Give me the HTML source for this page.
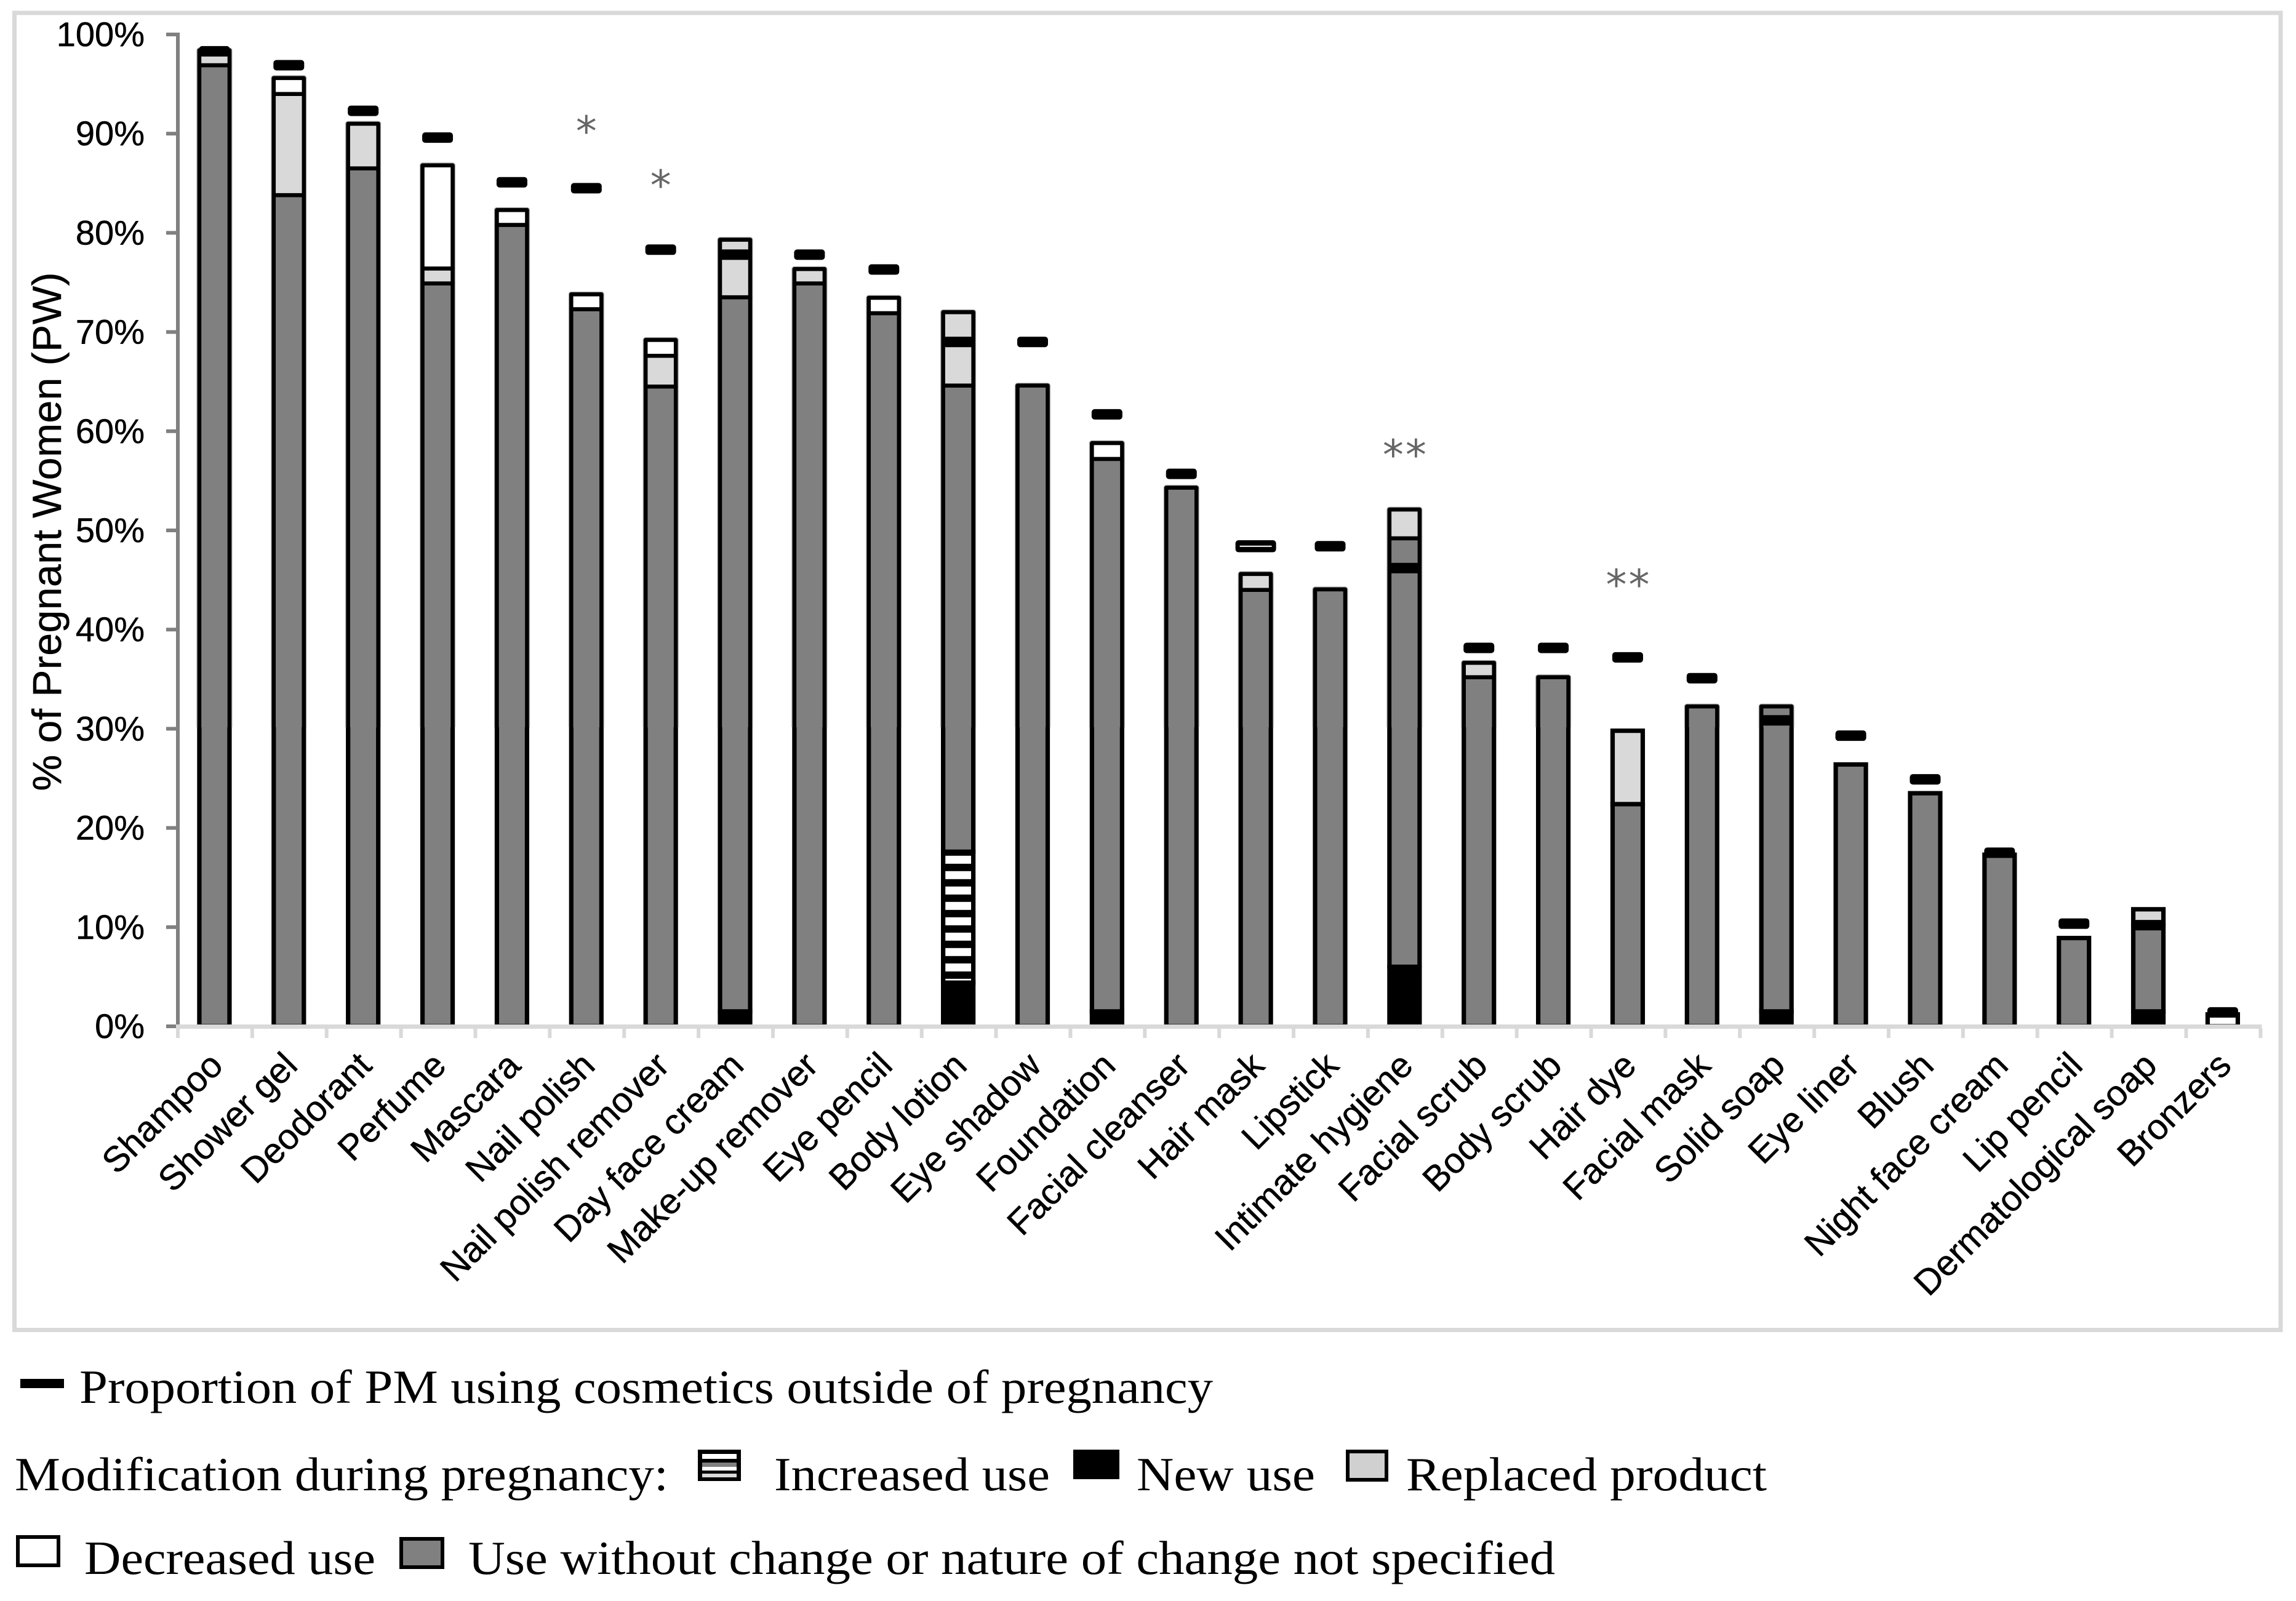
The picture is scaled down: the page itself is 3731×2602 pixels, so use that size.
<!DOCTYPE html>
<html lang="en">
<head>
<meta charset="utf-8">
<title>Cosmetic use among pregnant women</title>
<style>
  html, body { margin: 0; padding: 0; background: #fff; }
  svg { display: block; }
  .sans { font-family: "Liberation Sans", Arial, sans-serif; fill: #000; stroke: #000; stroke-width: 0.5px; }
  .legend-text { font-family: "Liberation Serif", "Times New Roman", serif; font-size: 77px; fill: #000; }
  .star { font-family: "DejaVu Sans", sans-serif; font-size: 68px; fill: #666; text-anchor: middle; }
</style>
</head>
<body>
<svg id="chart" xmlns="http://www.w3.org/2000/svg" width="3731" height="2602" viewBox="0 0 3731 2602">
  <defs>
    <pattern id="increased-fill" patternUnits="userSpaceOnUse" x="0" y="1390.8" width="10" height="25">
      <rect x="0" y="0" width="10" height="13" fill="#fff"></rect>
      <rect x="0" y="13" width="10" height="12" fill="#000"></rect>
    </pattern>
    <clipPath id="clip-upper"><rect x="0" y="0" width="3731" height="1182"></rect></clipPath>
    <clipPath id="clip-lower"><rect x="0" y="1182" width="3731" height="1420"></rect></clipPath>
  </defs>
  <rect width="3731" height="2602" fill="#fff"></rect>
  <rect x="23.5" y="21" width="3682.5" height="2140.5" fill="none" stroke="#d9d9d9" stroke-width="7"></rect>

  <g id="bars-upper" clip-path="url(#clip-upper)"></g>
  <g id="bars-lower" clip-path="url(#clip-lower)"></g>
  <g id="markers"></g>
  <g id="axes"></g>
  <g id="stars"></g>

  <text class="sans" font-size="66" text-anchor="middle" textLength="843" lengthAdjust="spacing" transform="translate(99 864) rotate(-90)">% of Pregnant Women (PW)</text>

  <g>
    <rect x="33" y="2241" width="71" height="15" fill="#000"></rect>
    <text class="legend-text" x="129" y="2280" textLength="1842" lengthAdjust="spacingAndGlyphs">Proportion of PM using cosmetics outside of pregnancy</text>

    <text class="legend-text" x="24" y="2422" textLength="1062" lengthAdjust="spacingAndGlyphs">Modification during pregnancy:</text>

    <g>
      <rect x="1134" y="2356" width="70" height="51" fill="#000"></rect>
      <rect x="1141" y="2363" width="56" height="8" fill="#fff"></rect>
      <rect x="1141" y="2377" width="56" height="7" fill="#808080"></rect>
      <rect x="1141" y="2384" width="56" height="6" fill="#fff"></rect>
      <rect x="1141" y="2395" width="56" height="6" fill="#d9d9d9"></rect>
    </g>
    <text class="legend-text" x="1258" y="2422" textLength="448" lengthAdjust="spacingAndGlyphs">Increased use</text>

    <rect x="1744" y="2356" width="75" height="48" fill="#000"></rect>
    <text class="legend-text" x="1847" y="2422" textLength="290" lengthAdjust="spacingAndGlyphs">New use</text>

    <rect x="2190" y="2359" width="63" height="46" fill="#d0d0d0" stroke="#000" stroke-width="6"></rect>
    <text class="legend-text" x="2285" y="2422" textLength="586" lengthAdjust="spacingAndGlyphs">Replaced product</text>

    <rect x="29" y="2498" width="66" height="46" fill="#fff" stroke="#000" stroke-width="6"></rect>
    <text class="legend-text" x="137" y="2558" textLength="473" lengthAdjust="spacingAndGlyphs">Decreased use</text>

    <rect x="652" y="2501" width="67" height="46" fill="#808080" stroke="#000" stroke-width="6"></rect>
    <text class="legend-text" x="761" y="2558" textLength="1766" lengthAdjust="spacingAndGlyphs">Use without change or nature of change not specified</text>
  </g>
</svg>

<script>
// ---- chart data (percent of pregnant women; stacked bottom to top) ----
const categories = ["Shampoo","Shower gel","Deodorant","Perfume","Mascara","Nail polish","Nail polish remover","Day face cream","Make-up remover","Eye pencil","Body lotion","Eye shadow","Foundation","Facial cleanser","Hair mask","Lipstick","Intimate hygiene","Facial scrub","Body scrub","Hair dye","Facial mask","Solid soap","Eye liner","Blush","Night face cream","Lip pencil","Dermatological soap","Bronzers"];
const newUse       = [0,0,0,0,0,0,0,1.5,0,0,4.4,0,1.5,0,0,0,6,0,0,0,0,1.5,0,0,0,0,1.5,0];
const increasedUse = [0,0,0,0,0,0,0,0,0,0,13.2,0,0,0,0,0,0,0,0,0,0,0,0,0,0,0,0,0];
const unchangedUse = [96.9,83.8,86.5,74.9,80.8,72.3,64.5,72,74.9,71.9,47,64.6,55.7,54.3,44,44.05,43.2,35.2,35.2,22.4,32.25,30.75,26.4,23.5,17.3,8.9,8.7,0];
const replacedUse  = [1.5,10.2,4.5,1.5,0,0,3.1,5.8,1.45,0,7.4,0,0,0,1.6,0,2.9,1.45,0,7.4,0,0,0,0,0,0,1.6,0];
const decreasedUse = [0,1.6,0,10.4,1.5,1.5,1.6,0,0,1.55,0,0,1.6,0,0,0,0,0,0,0,0,0,0,0,0,0,0,1.2];
const outsidePregnancy = [98.3,96.9,92.3,89.6,85.1,84.5,78.3,77.8,77.8,76.3,69,69,61.7,55.7,48.4,48.4,46.2,38.15,38.15,37.2,35.1,30.85,29.3,24.9,17.5,10.35,10.2,1.4];
const hollowMarkers = ["Hair mask"];
const significance = {"Nail polish":"*","Nail polish remover":"*","Intimate hygiene":"**","Hair dye":"**"};
const starLevels = {"Nail polish":90.57,"Nail polish remover":85.11,"Intimate hygiene":57.94,"Hair dye":44.85};
const yTicks = [0,10,20,30,40,50,60,70,80,90,100];
const yTickLabels = ["0%","10%","20%","30%","40%","50%","60%","70%","80%","90%","100%"];

// ---- axis functions ----
const X0 = 288, STEP = 120.87, Y0 = 1668, PER_UNIT = 16.12, BAR_W = 49;
function xEdge(i) { return X0 + i * STEP; }
function xCenter(i) { return X0 + (i + 0.5) * STEP; }
function yScale(v) { return Y0 - v * PER_UNIT; }

const SVG_NS = "http://www.w3.org/2000/svg";
function make(tag, parent, attrs) {
  const el = document.createElementNS(SVG_NS, tag);
  for (const k in attrs) el.setAttribute(k, attrs[k]);
  parent.appendChild(el);
  return el;
}

const seriesList = [
  { values: newUse,       fill: "#000",                 key: "new-use" },
  { values: increasedUse, fill: "url(#increased-fill)", key: "increased-use" },
  { values: unchangedUse, fill: "#808080",              key: "unchanged-use" },
  { values: replacedUse,  fill: "#d9d9d9",              key: "replaced-product" },
  { values: decreasedUse, fill: "#fff",                 key: "decreased-use" }
];

function stackTop(i) {
  return seriesList.reduce(function (sum, s) { return sum + s.values[i]; }, 0);
}

function drawBars(group, strokeWidth, rounded, fringe) {
  categories.forEach(function (cat, i) {
    const cx = xCenter(i);
    if (fringe) {
      const halo = make("rect", group, {
        x: cx - BAR_W / 2, y: yScale(stackTop(i)), width: BAR_W,
        height: yScale(0) - yScale(stackTop(i)),
        fill: "none", stroke: "#8a8a8a", "stroke-width": strokeWidth + 2.5,
        "stroke-linejoin": "round", opacity: 0.75
      });
      
      
    }
    let base = 0;
    seriesList.forEach(function (s) {
      const v = s.values[i];
      if (v <= 0) return;
      const seg = make("rect", group, {
        x: cx - BAR_W / 2, y: yScale(base + v), width: BAR_W,
        height: yScale(base) - yScale(base + v),
        fill: s.fill, stroke: "#000", "stroke-width": strokeWidth,
        "stroke-linejoin": rounded ? "round" : "miter"
      });
      
      
      base += v;
    });
  });
}
drawBars(document.getElementById("bars-upper"), 6.5, true, true);
drawBars(document.getElementById("bars-lower"), 7.2, false, false);

// markers: proportion using the product outside of pregnancy
const markersG = document.getElementById("markers");
categories.forEach(function (cat, i) {
  const cx = xCenter(i), cy = yScale(outsidePregnancy[i]);
  const hollow = hollowMarkers.indexOf(cat) >= 0;
  const w = hollow ? 66 : 50, h = hollow ? 19.5 : 17;
  const m = make("rect", markersG, { x: cx - w / 2, y: cy - h / 2, width: w, height: h, rx: 5, ry: 5, fill: "#000" });
  
  
  if (hollow) {
    const slit = make("rect", markersG, { x: cx - 26, y: cy - 1, width: 52, height: 2, fill: "#fff" });
    
    
  }
});

// axes
const axesG = document.getElementById("axes");
const yLine = make("rect", axesG, { x: 286, y: yScale(100) - 3, width: 6, height: yScale(0) - yScale(100) + 7, fill: "#808080" });


yTicks.forEach(function (t, i) {
  const tick = make("rect", axesG, { x: 270, y: yScale(t) - 3, width: 17, height: 6, fill: "#808080" });
  
  
  const lab = make("text", axesG, { x: 235, y: yScale(t) + 19, "text-anchor": "end", "font-size": 56, class: "sans" });
  lab.textContent = yTickLabels[i];
  
  
});
const xLine = make("rect", axesG, { x: 286, y: Y0 - 3, width: xEdge(categories.length) - 286 + 3, height: 7, fill: "#d9d9d9" });


for (let i = 0; i <= categories.length; i++) {
  const tick = make("rect", axesG, { x: xEdge(i) - 2, y: Y0 + 3, width: 6, height: 16, fill: "#d9d9d9" });
  
  
}
categories.forEach(function (cat, i) {
  const ax = xCenter(i) + 17, ay = 1735;
  const lab = make("text", axesG, { "text-anchor": "end", "font-size": 58, class: "sans", transform: "translate(" + ax + " " + ay + ") rotate(-45)" });
  lab.textContent = cat;
  
  
});

// significance stars
const starsG = document.getElementById("stars");
categories.forEach(function (cat, i) {
  const mark = significance[cat];
  if (!mark) return;
  const chars = mark.split("");
  chars.forEach(function (ch, k) {
    const dx = (k - (chars.length - 1) / 2) * 37;
    const st = make("text", starsG, { x: xCenter(i) + dx, y: yScale(starLevels[cat]) + 29, class: "star" });
    st.textContent = ch;
    
    
  });
});
</script>
</body>
</html>
